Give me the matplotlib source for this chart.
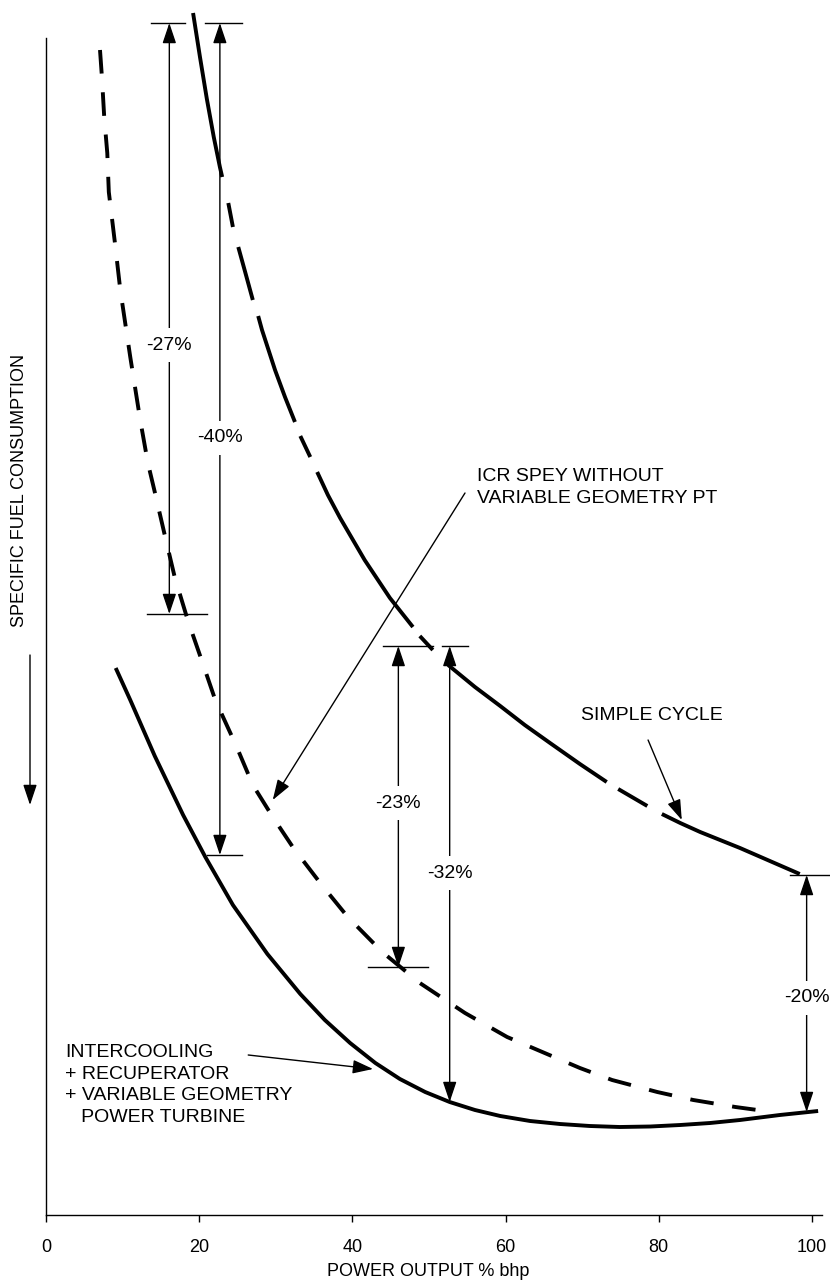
import numpy as np
import matplotlib.pyplot as plt

plt.rcParams['font.family'] = ['Liberation Sans', 'DejaVu Sans']

# power output (% bhp) vs specific fuel consumption (relative, no scale shown)
simple_x = [19.2, 20.1, 21.0, 21.9, 22.7, 23.0, 23.8, 24.4, 25.1, 26.0, 27.0, 27.7, 28.2, 29.9, 31.2,
            32.5, 33.2, 34.5, 35.4, 36.8, 38.4, 41.6, 44.9, 47.9, 48.8, 50.5, 52.5, 56.0, 59.3, 62.5,
            65.8, 69.7, 73.2, 74.7, 78.5, 80.4, 82.8, 85.4, 88.0, 90.6, 94.5, 98.4]
simple_y = [120.2, 115.8, 111.6, 107.8, 104.8, 103.8, 101.2, 98.8, 96.8, 94.3, 91.5, 89.9, 88.5, 84.5, 81.8,
            79.3, 77.9, 75.8, 74.3, 72.0, 69.7, 65.5, 61.7, 58.8, 57.9, 56.5, 55.0, 52.8, 50.9, 49.0,
            47.2, 45.1, 43.3, 42.6, 40.9, 40.1, 39.2, 38.3, 37.5, 36.7, 35.4, 34.1]
# 1 = curve is inked up to the next point, 0 = break in the printed curve
simple_ink = [1, 1, 1, 1, 1, 0, 1, 0, 1, 1, 0, 1, 1, 1, 1, 0, 1, 0, 1, 1, 1,
              1, 1, 0, 1, 0, 1, 1, 1, 1, 1, 1, 0, 1, 0, 1, 1, 1, 1, 1, 1]

icr_x = [7.05, 7.3, 7.6, 8.0, 8.2, 9.0, 9.7, 11.0, 12.3, 13.3, 14.2, 15.5, 16.8, 18.5, 20.4, 22.1, 24.9,
         27.0, 29.6, 32.3, 36.0, 39.4, 43.9, 48.8, 54.7, 60.2, 65.1, 69.7, 73.9, 79.8, 84.5, 90.0, 94.8]
icr_y = [116.5, 113.8, 109.8, 106.2, 102.3, 97.2, 92.5, 85.8, 79.5, 75.2, 72.3, 68.0, 63.8, 59.5, 55.3, 51.5,
         46.8, 43.0, 39.8, 36.7, 33.0, 29.8, 26.3, 23.2, 20.2, 17.8, 16.2, 14.7, 13.5, 12.3, 11.5, 10.8, 10.3]

icr_vg_x = [9.1, 11.0, 14.2, 17.9, 20.8, 24.4, 28.9, 33.2, 36.4, 39.7, 43.0, 46.2, 49.5, 52.7, 56.0,
            59.3, 63.2, 67.1, 71.0, 74.9, 78.9, 82.8, 86.7, 90.6, 95.8, 100.8]
icr_vg_y = [54.7, 51.5, 45.9, 40.0, 35.8, 31.0, 26.1, 22.1, 19.5, 17.2, 15.2, 13.6, 12.3, 11.3, 10.5,
            9.9, 9.4, 9.1, 8.9, 8.8, 8.85, 9.0, 9.2, 9.5, 10.0, 10.4]

# reduction brackets
diff_labels = ['-27%', '-40%', '-23%', '-32%', '-20%']
diff_x = [16.1, 22.7, 46.0, 52.7, 99.3]
diff_top = [119.2, 119.2, 56.9, 56.9, 34.0]
diff_bot = [60.1, 36.0, 24.8, 11.3, 10.3]
diff_label_y = [87.0, 77.7, 41.2, 34.2, 21.7]

tick_x0 = [13.7, 20.8, 13.2, 21.0, 44.0, 51.7, 42.0, 97.1]
tick_x1 = [18.1, 25.6, 21.0, 25.6, 50.5, 55.1, 49.9, 102.4]
tick_y = [119.2, 119.2, 60.1, 36.0, 56.9, 56.9, 24.8, 34.0]

xticks = [0, 20, 40, 60, 80, 100]

fig = plt.figure(figsize=(8.3, 12.82), dpi=100)
ax = fig.add_axes([46 / 830, 67 / 1282, 784 / 830, 1215 / 1282])
ax.set_xlim(0, 102.35)
ax.set_ylim(0, 121.5)

for s in ['top', 'right']:
    ax.spines[s].set_visible(False)
ax.spines['left'].set_bounds(0, 117.7)
ax.spines['bottom'].set_bounds(0, 101.3)
ax.spines['left'].set_linewidth(1.0)
ax.spines['bottom'].set_linewidth(1.0)
ax.set_yticks([])
ax.set_xticks(xticks)
ax.tick_params(axis='x', direction='out', length=5, width=1, pad=12, labelsize=13)

lw = 2.8
# simple cycle: draw inked runs only
sx = np.array(simple_x)
sy = np.array(simple_y)
i = 0
while i < len(simple_ink):
    if simple_ink[i]:
        j = i
        while j < len(simple_ink) and simple_ink[j]:
            j += 1
        ax.plot(sx[i:j + 1], sy[i:j + 1], color='black', lw=lw, solid_capstyle='butt')
        i = j
    else:
        i += 1

ax.plot(icr_x, icr_y, color='black', lw=lw, linestyle=(0, (17 / lw, 13.5 / lw)), dash_capstyle='butt')
ax.plot(icr_vg_x, icr_vg_y, color='black', lw=lw, solid_capstyle='butt')

for x0, x1, y in zip(tick_x0, tick_x1, tick_y):
    ax.plot([x0, x1], [y, y], color='black', lw=1.0)

arr = dict(arrowstyle='<|-|>,head_length=1.25,head_width=0.42', color='black', lw=1.0,
           shrinkA=0, shrinkB=0, mutation_scale=10)
for lab, x, yt, yb, yl in zip(diff_labels, diff_x, diff_top, diff_bot, diff_label_y):
    ax.annotate('', xy=(x, yt), xytext=(x, yb), arrowprops=arr)
    ax.text(x, yl, lab, ha='center', va='center', fontsize=14,
            bbox=dict(boxstyle='square,pad=0.45', fc='white', ec='none'))

one = dict(arrowstyle='-|>,head_length=1.25,head_width=0.42', color='black', lw=1.0,
           shrinkA=0, shrinkB=0, mutation_scale=10)
ax.text(56.3, 72.75, 'ICR SPEY WITHOUT\nVARIABLE GEOMETRY PT', ha='left', va='center',
        fontsize=14, linespacing=1.35)
ax.annotate('', xy=(29.6, 41.5), xytext=(54.7, 72.2), arrowprops=one)

ax.text(79.1, 50.0, 'SIMPLE CYCLE', ha='center', va='center', fontsize=14)
ax.annotate('', xy=(83.0, 39.5), xytext=(78.6, 47.5), arrowprops=one)

ax.text(2.5, 13.0, 'INTERCOOLING\n+ RECUPERATOR\n+ VARIABLE GEOMETRY\n   POWER TURBINE',
        ha='left', va='center', fontsize=14, linespacing=1.35)
ax.annotate('', xy=(42.7, 14.6), xytext=(26.4, 16.0), arrowprops=one)

fig.text(428 / 830, 1 - 1272 / 1282, 'POWER OUTPUT % bhp', ha='center', va='center', fontsize=13)
fig.text(20 / 830, 1 - 490 / 1282, 'SPECIFIC FUEL CONSUMPTION', rotation=90,
         ha='center', va='center', fontsize=13)
ax.annotate('', xy=(30 / 830, 1 - 805 / 1282), xycoords='figure fraction',
            xytext=(30 / 830, 1 - 655 / 1282), textcoords='figure fraction', arrowprops=one)

fig.savefig('out.png', dpi=100)
